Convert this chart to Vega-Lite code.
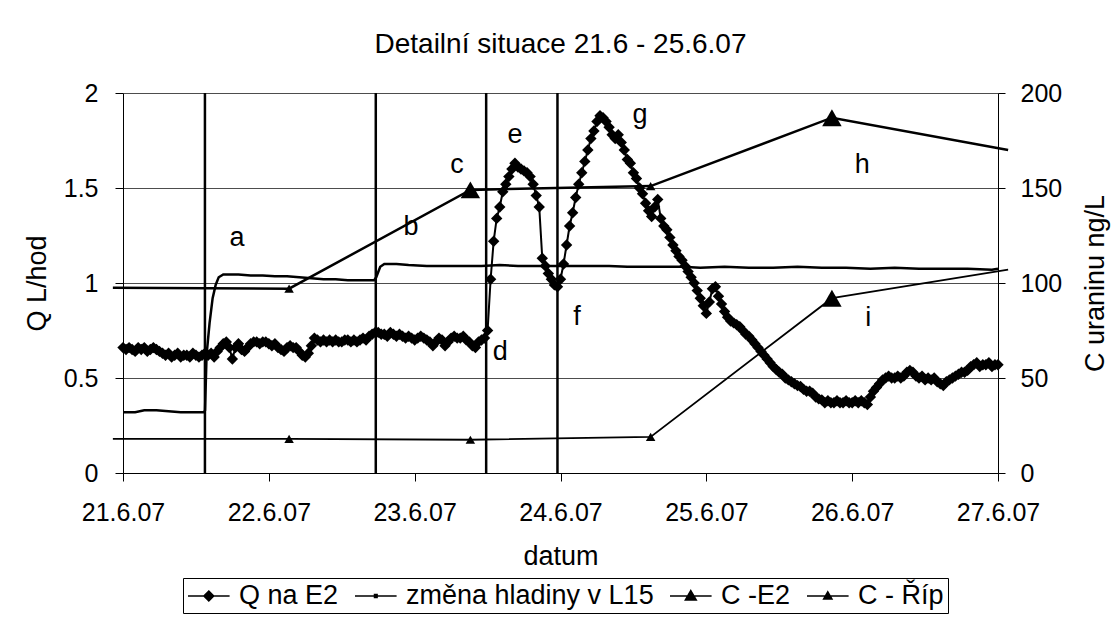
{
  "$schema": "https://vega.github.io/schema/vega-lite/v6.json",
  "width": 875,
  "height": 380,
  "autosize": {"type": "none"},
  "padding": {"left": 123, "top": 93, "right": 122, "bottom": 144},
  "background": "white",
  "title": {"text": "Detailní situace 21.6 - 25.6.07", "anchor": "middle", "frame": "group", "baseline": "alphabetic", "offset": 0, "fontSize": 28, "fontWeight": "normal", "font": "Liberation Sans", "color": "black"},
  "config": {
    "font": "Liberation Sans",
    "view": {"stroke": null},
    "axis": {
      "labelFont": "Liberation Sans", "labelFontSize": 25, "labelColor": "black",
      "titleFont": "Liberation Sans", "titleFontSize": 27, "titleFontWeight": "normal", "titleColor": "black",
      "domainColor": "black", "domainWidth": 1, "tickColor": "black", "tickWidth": 1, "tickSize": 8,
      "gridColor": "#4d4d4d", "gridWidth": 1
    }
  },
  "datasets": {
    "prutok": [
      {"datum":"2007-06-21T00:00","q":0.66},{"datum":"2007-06-21T00:30","q":0.65},{"datum":"2007-06-21T01:00","q":0.66},{"datum":"2007-06-21T01:30","q":0.65},
      {"datum":"2007-06-21T02:00","q":0.64},{"datum":"2007-06-21T02:30","q":0.66},{"datum":"2007-06-21T03:00","q":0.65},{"datum":"2007-06-21T03:30","q":0.66},
      {"datum":"2007-06-21T04:00","q":0.64},{"datum":"2007-06-21T04:30","q":0.65},{"datum":"2007-06-21T05:00","q":0.66},{"datum":"2007-06-21T05:30","q":0.65},
      {"datum":"2007-06-21T06:00","q":0.64},{"datum":"2007-06-21T06:30","q":0.63},{"datum":"2007-06-21T07:00","q":0.62},{"datum":"2007-06-21T07:30","q":0.63},
      {"datum":"2007-06-21T08:00","q":0.61},{"datum":"2007-06-21T08:30","q":0.62},{"datum":"2007-06-21T09:00","q":0.63},{"datum":"2007-06-21T09:30","q":0.61},
      {"datum":"2007-06-21T10:00","q":0.62},{"datum":"2007-06-21T10:30","q":0.62},{"datum":"2007-06-21T11:00","q":0.61},{"datum":"2007-06-21T11:30","q":0.63},
      {"datum":"2007-06-21T12:00","q":0.62},{"datum":"2007-06-21T12:30","q":0.61},{"datum":"2007-06-21T13:00","q":0.62},{"datum":"2007-06-21T13:30","q":0.63},
      {"datum":"2007-06-21T14:00","q":0.62},{"datum":"2007-06-21T14:30","q":0.63},{"datum":"2007-06-21T15:00","q":0.61},{"datum":"2007-06-21T15:30","q":0.64},
      {"datum":"2007-06-21T16:00","q":0.66},{"datum":"2007-06-21T16:30","q":0.68},{"datum":"2007-06-21T17:00","q":0.69},{"datum":"2007-06-21T17:30","q":0.66},
      {"datum":"2007-06-21T18:00","q":0.60},{"datum":"2007-06-21T18:30","q":0.66},{"datum":"2007-06-21T19:00","q":0.68},{"datum":"2007-06-21T19:30","q":0.65},
      {"datum":"2007-06-21T20:00","q":0.64},{"datum":"2007-06-21T20:30","q":0.66},{"datum":"2007-06-21T21:00","q":0.68},{"datum":"2007-06-21T21:30","q":0.69},
      {"datum":"2007-06-21T22:00","q":0.69},{"datum":"2007-06-21T22:30","q":0.68},{"datum":"2007-06-21T23:00","q":0.69},{"datum":"2007-06-21T23:30","q":0.69},
      {"datum":"2007-06-22T00:00","q":0.68},{"datum":"2007-06-22T00:30","q":0.67},{"datum":"2007-06-22T01:00","q":0.68},{"datum":"2007-06-22T01:30","q":0.66},
      {"datum":"2007-06-22T02:00","q":0.65},{"datum":"2007-06-22T02:30","q":0.64},{"datum":"2007-06-22T03:00","q":0.66},{"datum":"2007-06-22T03:30","q":0.67},
      {"datum":"2007-06-22T04:00","q":0.66},{"datum":"2007-06-22T04:30","q":0.66},{"datum":"2007-06-22T05:00","q":0.64},{"datum":"2007-06-22T05:30","q":0.62},
      {"datum":"2007-06-22T06:00","q":0.61},{"datum":"2007-06-22T06:30","q":0.63},{"datum":"2007-06-22T07:00","q":0.67},{"datum":"2007-06-22T07:30","q":0.71},
      {"datum":"2007-06-22T08:00","q":0.70},{"datum":"2007-06-22T08:30","q":0.69},{"datum":"2007-06-22T09:00","q":0.70},{"datum":"2007-06-22T09:30","q":0.69},
      {"datum":"2007-06-22T10:00","q":0.70},{"datum":"2007-06-22T10:30","q":0.69},{"datum":"2007-06-22T11:00","q":0.70},{"datum":"2007-06-22T11:30","q":0.69},
      {"datum":"2007-06-22T12:00","q":0.69},{"datum":"2007-06-22T12:30","q":0.70},{"datum":"2007-06-22T13:00","q":0.70},{"datum":"2007-06-22T13:30","q":0.69},
      {"datum":"2007-06-22T14:00","q":0.70},{"datum":"2007-06-22T14:30","q":0.69},{"datum":"2007-06-22T15:00","q":0.70},{"datum":"2007-06-22T15:30","q":0.71},
      {"datum":"2007-06-22T16:00","q":0.70},{"datum":"2007-06-22T16:30","q":0.72},{"datum":"2007-06-22T17:00","q":0.73},{"datum":"2007-06-22T17:30","q":0.74},
      {"datum":"2007-06-22T18:00","q":0.74},{"datum":"2007-06-22T18:30","q":0.73},{"datum":"2007-06-22T19:00","q":0.73},{"datum":"2007-06-22T19:30","q":0.72},
      {"datum":"2007-06-22T20:00","q":0.74},{"datum":"2007-06-22T20:30","q":0.73},{"datum":"2007-06-22T21:00","q":0.72},{"datum":"2007-06-22T21:30","q":0.73},
      {"datum":"2007-06-22T22:00","q":0.72},{"datum":"2007-06-22T22:30","q":0.71},{"datum":"2007-06-22T23:00","q":0.72},{"datum":"2007-06-22T23:30","q":0.71},
      {"datum":"2007-06-23T00:00","q":0.70},{"datum":"2007-06-23T00:30","q":0.71},{"datum":"2007-06-23T01:00","q":0.72},{"datum":"2007-06-23T01:30","q":0.71},
      {"datum":"2007-06-23T02:00","q":0.70},{"datum":"2007-06-23T02:30","q":0.69},{"datum":"2007-06-23T03:00","q":0.67},{"datum":"2007-06-23T03:30","q":0.69},
      {"datum":"2007-06-23T04:00","q":0.71},{"datum":"2007-06-23T04:30","q":0.70},{"datum":"2007-06-23T05:00","q":0.67},{"datum":"2007-06-23T05:30","q":0.69},
      {"datum":"2007-06-23T06:00","q":0.71},{"datum":"2007-06-23T06:30","q":0.72},{"datum":"2007-06-23T07:00","q":0.71},{"datum":"2007-06-23T07:30","q":0.71},
      {"datum":"2007-06-23T08:00","q":0.72},{"datum":"2007-06-23T08:30","q":0.70},{"datum":"2007-06-23T09:00","q":0.69},{"datum":"2007-06-23T09:30","q":0.67},
      {"datum":"2007-06-23T10:00","q":0.66},{"datum":"2007-06-23T10:30","q":0.69},{"datum":"2007-06-23T11:00","q":0.70},{"datum":"2007-06-23T11:30","q":0.71},
      {"datum":"2007-06-23T12:00","q":0.75},{"datum":"2007-06-23T12:30","q":1.02},{"datum":"2007-06-23T13:00","q":1.22},{"datum":"2007-06-23T13:30","q":1.34},
      {"datum":"2007-06-23T14:00","q":1.40},{"datum":"2007-06-23T14:30","q":1.48},{"datum":"2007-06-23T15:00","q":1.52},{"datum":"2007-06-23T15:30","q":1.56},
      {"datum":"2007-06-23T16:00","q":1.60},{"datum":"2007-06-23T16:30","q":1.63},{"datum":"2007-06-23T17:00","q":1.61},{"datum":"2007-06-23T17:30","q":1.60},
      {"datum":"2007-06-23T18:00","q":1.59},{"datum":"2007-06-23T18:30","q":1.58},{"datum":"2007-06-23T19:00","q":1.56},{"datum":"2007-06-23T19:30","q":1.52},
      {"datum":"2007-06-23T20:00","q":1.46},{"datum":"2007-06-23T20:30","q":1.40},{"datum":"2007-06-23T21:00","q":1.13},{"datum":"2007-06-23T21:30","q":1.09},
      {"datum":"2007-06-23T22:00","q":1.05},{"datum":"2007-06-23T22:30","q":1.02},{"datum":"2007-06-23T23:00","q":0.99},{"datum":"2007-06-23T23:30","q":0.98},
      {"datum":"2007-06-24T00:00","q":1.02},{"datum":"2007-06-24T00:30","q":1.10},{"datum":"2007-06-24T01:00","q":1.20},{"datum":"2007-06-24T01:30","q":1.30},
      {"datum":"2007-06-24T02:00","q":1.37},{"datum":"2007-06-24T02:30","q":1.45},{"datum":"2007-06-24T03:00","q":1.52},{"datum":"2007-06-24T03:30","q":1.58},
      {"datum":"2007-06-24T04:00","q":1.64},{"datum":"2007-06-24T04:30","q":1.70},{"datum":"2007-06-24T05:00","q":1.76},{"datum":"2007-06-24T05:30","q":1.80},
      {"datum":"2007-06-24T06:00","q":1.85},{"datum":"2007-06-24T06:30","q":1.88},{"datum":"2007-06-24T07:00","q":1.87},{"datum":"2007-06-24T07:30","q":1.85},
      {"datum":"2007-06-24T08:00","q":1.82},{"datum":"2007-06-24T08:30","q":1.78},{"datum":"2007-06-24T09:00","q":1.76},{"datum":"2007-06-24T09:30","q":1.78},
      {"datum":"2007-06-24T10:00","q":1.74},{"datum":"2007-06-24T10:30","q":1.70},{"datum":"2007-06-24T11:00","q":1.65},{"datum":"2007-06-24T11:30","q":1.63},
      {"datum":"2007-06-24T12:00","q":1.58},{"datum":"2007-06-24T12:30","q":1.55},{"datum":"2007-06-24T13:00","q":1.50},{"datum":"2007-06-24T13:30","q":1.47},
      {"datum":"2007-06-24T14:00","q":1.42},{"datum":"2007-06-24T14:30","q":1.38},{"datum":"2007-06-24T15:00","q":1.35},{"datum":"2007-06-24T15:30","q":1.40},
      {"datum":"2007-06-24T16:00","q":1.44},{"datum":"2007-06-24T16:30","q":1.34},{"datum":"2007-06-24T17:00","q":1.30},{"datum":"2007-06-24T17:30","q":1.28},
      {"datum":"2007-06-24T18:00","q":1.24},{"datum":"2007-06-24T18:30","q":1.20},{"datum":"2007-06-24T19:00","q":1.17},{"datum":"2007-06-24T19:30","q":1.14},
      {"datum":"2007-06-24T20:00","q":1.12},{"datum":"2007-06-24T20:30","q":1.09},{"datum":"2007-06-24T21:00","q":1.06},{"datum":"2007-06-24T21:30","q":1.03},
      {"datum":"2007-06-24T22:00","q":1.00},{"datum":"2007-06-24T22:30","q":0.96},{"datum":"2007-06-24T23:00","q":0.92},{"datum":"2007-06-24T23:30","q":0.88},
      {"datum":"2007-06-25T00:00","q":0.84},{"datum":"2007-06-25T00:30","q":0.90},{"datum":"2007-06-25T01:00","q":0.97},{"datum":"2007-06-25T01:30","q":0.98},
      {"datum":"2007-06-25T02:00","q":0.93},{"datum":"2007-06-25T02:30","q":0.89},{"datum":"2007-06-25T03:00","q":0.85},{"datum":"2007-06-25T03:30","q":0.82},
      {"datum":"2007-06-25T04:00","q":0.80},{"datum":"2007-06-25T04:30","q":0.79},{"datum":"2007-06-25T05:00","q":0.78},{"datum":"2007-06-25T05:30","q":0.77},
      {"datum":"2007-06-25T06:00","q":0.75},{"datum":"2007-06-25T06:30","q":0.73},{"datum":"2007-06-25T07:00","q":0.72},{"datum":"2007-06-25T07:30","q":0.70},
      {"datum":"2007-06-25T08:00","q":0.68},{"datum":"2007-06-25T08:30","q":0.66},{"datum":"2007-06-25T09:00","q":0.64},{"datum":"2007-06-25T09:30","q":0.62},
      {"datum":"2007-06-25T10:00","q":0.60},{"datum":"2007-06-25T10:30","q":0.58},{"datum":"2007-06-25T11:00","q":0.56},{"datum":"2007-06-25T11:30","q":0.545},
      {"datum":"2007-06-25T12:00","q":0.53},{"datum":"2007-06-25T12:30","q":0.52},{"datum":"2007-06-25T13:00","q":0.50},{"datum":"2007-06-25T13:30","q":0.49},
      {"datum":"2007-06-25T14:00","q":0.48},{"datum":"2007-06-25T14:30","q":0.47},{"datum":"2007-06-25T15:00","q":0.46},{"datum":"2007-06-25T15:30","q":0.455},
      {"datum":"2007-06-25T16:00","q":0.44},{"datum":"2007-06-25T16:30","q":0.43},{"datum":"2007-06-25T17:00","q":0.43},{"datum":"2007-06-25T17:30","q":0.42},
      {"datum":"2007-06-25T18:00","q":0.40},{"datum":"2007-06-25T18:30","q":0.39},{"datum":"2007-06-25T19:00","q":0.385},{"datum":"2007-06-25T19:30","q":0.37},
      {"datum":"2007-06-25T20:00","q":0.38},{"datum":"2007-06-25T20:30","q":0.37},{"datum":"2007-06-25T21:00","q":0.37},{"datum":"2007-06-25T21:30","q":0.38},
      {"datum":"2007-06-25T22:00","q":0.37},{"datum":"2007-06-25T22:30","q":0.37},{"datum":"2007-06-25T23:00","q":0.38},{"datum":"2007-06-25T23:30","q":0.37},
      {"datum":"2007-06-26T00:00","q":0.37},{"datum":"2007-06-26T00:30","q":0.38},{"datum":"2007-06-26T01:00","q":0.37},{"datum":"2007-06-26T01:30","q":0.38},
      {"datum":"2007-06-26T02:00","q":0.37},{"datum":"2007-06-26T02:30","q":0.36},{"datum":"2007-06-26T03:00","q":0.40},{"datum":"2007-06-26T03:30","q":0.43},
      {"datum":"2007-06-26T04:00","q":0.45},{"datum":"2007-06-26T04:30","q":0.47},{"datum":"2007-06-26T05:00","q":0.49},{"datum":"2007-06-26T05:30","q":0.50},
      {"datum":"2007-06-26T06:00","q":0.51},{"datum":"2007-06-26T06:30","q":0.50},{"datum":"2007-06-26T07:00","q":0.50},{"datum":"2007-06-26T07:30","q":0.51},
      {"datum":"2007-06-26T08:00","q":0.50},{"datum":"2007-06-26T08:30","q":0.51},{"datum":"2007-06-26T09:00","q":0.53},{"datum":"2007-06-26T09:30","q":0.54},
      {"datum":"2007-06-26T10:00","q":0.53},{"datum":"2007-06-26T10:30","q":0.51},{"datum":"2007-06-26T11:00","q":0.50},{"datum":"2007-06-26T11:30","q":0.51},
      {"datum":"2007-06-26T12:00","q":0.49},{"datum":"2007-06-26T12:30","q":0.50},{"datum":"2007-06-26T13:00","q":0.49},{"datum":"2007-06-26T13:30","q":0.50},
      {"datum":"2007-06-26T14:00","q":0.48},{"datum":"2007-06-26T14:30","q":0.47},{"datum":"2007-06-26T15:00","q":0.46},{"datum":"2007-06-26T15:30","q":0.48},
      {"datum":"2007-06-26T16:00","q":0.49},{"datum":"2007-06-26T16:30","q":0.50},{"datum":"2007-06-26T17:00","q":0.51},{"datum":"2007-06-26T17:30","q":0.52},
      {"datum":"2007-06-26T18:00","q":0.53},{"datum":"2007-06-26T18:30","q":0.53},{"datum":"2007-06-26T19:00","q":0.54},{"datum":"2007-06-26T19:30","q":0.56},
      {"datum":"2007-06-26T20:00","q":0.57},{"datum":"2007-06-26T20:30","q":0.58},{"datum":"2007-06-26T21:00","q":0.56},{"datum":"2007-06-26T21:30","q":0.57},
      {"datum":"2007-06-26T22:00","q":0.57},{"datum":"2007-06-26T22:30","q":0.58},{"datum":"2007-06-26T23:00","q":0.56},{"datum":"2007-06-26T23:30","q":0.57},
      {"datum":"2007-06-27T00:00","q":0.57}
    ],
    "hladina": [
      {"datum":"2007-06-21T00:00","h":0.32},{"datum":"2007-06-21T02:00","h":0.32},{"datum":"2007-06-21T03:30","h":0.33},{"datum":"2007-06-21T05:30","h":0.33},
      {"datum":"2007-06-21T07:30","h":0.325},{"datum":"2007-06-21T09:30","h":0.32},{"datum":"2007-06-21T11:30","h":0.32},{"datum":"2007-06-21T13:20","h":0.32},
      {"datum":"2007-06-21T13:30","h":0.33},{"datum":"2007-06-21T13:45","h":0.62},{"datum":"2007-06-21T14:15","h":0.79},{"datum":"2007-06-21T14:45","h":0.92},
      {"datum":"2007-06-21T15:15","h":0.99},{"datum":"2007-06-21T15:45","h":1.03},{"datum":"2007-06-21T16:30","h":1.045},{"datum":"2007-06-21T19:00","h":1.045},
      {"datum":"2007-06-21T21:00","h":1.04},{"datum":"2007-06-21T23:00","h":1.04},{"datum":"2007-06-22T01:00","h":1.035},{"datum":"2007-06-22T03:00","h":1.035},
      {"datum":"2007-06-22T05:00","h":1.03},{"datum":"2007-06-22T07:00","h":1.025},{"datum":"2007-06-22T09:00","h":1.02},{"datum":"2007-06-22T11:00","h":1.02},
      {"datum":"2007-06-22T13:00","h":1.015},{"datum":"2007-06-22T15:00","h":1.015},{"datum":"2007-06-22T17:20","h":1.015},{"datum":"2007-06-22T17:40","h":1.03},
      {"datum":"2007-06-22T18:20","h":1.085},{"datum":"2007-06-22T19:00","h":1.10},{"datum":"2007-06-22T21:00","h":1.10},{"datum":"2007-06-22T23:00","h":1.095},
      {"datum":"2007-06-23T02:00","h":1.09},{"datum":"2007-06-23T05:00","h":1.09},{"datum":"2007-06-23T08:00","h":1.09},{"datum":"2007-06-23T11:00","h":1.09},
      {"datum":"2007-06-23T14:00","h":1.095},{"datum":"2007-06-23T17:00","h":1.09},{"datum":"2007-06-23T20:00","h":1.09},{"datum":"2007-06-23T23:00","h":1.09},
      {"datum":"2007-06-24T02:00","h":1.09},{"datum":"2007-06-24T05:00","h":1.09},{"datum":"2007-06-24T08:00","h":1.09},{"datum":"2007-06-24T11:00","h":1.085},
      {"datum":"2007-06-24T14:00","h":1.085},{"datum":"2007-06-24T17:00","h":1.085},{"datum":"2007-06-24T20:00","h":1.085},{"datum":"2007-06-24T23:00","h":1.08},
      {"datum":"2007-06-25T03:00","h":1.085},{"datum":"2007-06-25T07:00","h":1.08},{"datum":"2007-06-25T11:00","h":1.08},{"datum":"2007-06-25T15:00","h":1.085},
      {"datum":"2007-06-25T19:00","h":1.08},{"datum":"2007-06-25T23:00","h":1.08},{"datum":"2007-06-26T03:00","h":1.075},{"datum":"2007-06-26T07:00","h":1.08},
      {"datum":"2007-06-26T11:00","h":1.075},{"datum":"2007-06-26T15:00","h":1.075},{"datum":"2007-06-26T19:00","h":1.075},{"datum":"2007-06-26T23:00","h":1.07},
      {"datum":"2007-06-27T00:00","h":1.075}
    ],
    "koncentrace": [
      {"rada":"C -E2","datum":"2007-06-20T22:20","c":97.5},
      {"rada":"C -E2","datum":"2007-06-22T03:20","c":97},
      {"rada":"C -E2","datum":"2007-06-23T09:10","c":149,"bod":"c"},
      {"rada":"C -E2","datum":"2007-06-24T14:50","c":151},
      {"rada":"C -E2","datum":"2007-06-25T20:40","c":187,"bod":"h"},
      {"rada":"C -E2","datum":"2007-06-27T01:40","c":170},
      {"rada":"C - Říp","datum":"2007-06-20T22:20","c":18},
      {"rada":"C - Říp","datum":"2007-06-22T03:20","c":18},
      {"rada":"C - Říp","datum":"2007-06-23T09:10","c":17.5},
      {"rada":"C - Říp","datum":"2007-06-24T14:50","c":19},
      {"rada":"C - Říp","datum":"2007-06-25T20:40","c":92,"bod":"i"},
      {"rada":"C - Říp","datum":"2007-06-27T01:40","c":107}
    ],
    "udalosti": [
      {"datum":"2007-06-21T13:29"},
      {"datum":"2007-06-22T17:36"},
      {"datum":"2007-06-23T11:46"},
      {"datum":"2007-06-23T23:30"}
    ],
    "popisky": [
      {"pismeno":"a","datum":"2007-06-21T18:45","y":1.237},
      {"pismeno":"b","datum":"2007-06-22T23:24","y":1.295},
      {"pismeno":"c","datum":"2007-06-23T06:59","y":1.621},
      {"pismeno":"d","datum":"2007-06-23T14:04","y":0.637},
      {"pismeno":"e","datum":"2007-06-23T16:32","y":1.779},
      {"pismeno":"f","datum":"2007-06-24T02:44","y":0.821},
      {"pismeno":"g","datum":"2007-06-24T13:06","y":1.884},
      {"pismeno":"h","datum":"2007-06-26T01:39","y":1.621},
      {"pismeno":"i","datum":"2007-06-26T02:38","y":0.816}
    ]
  },
  "layer": [
    {
      "layer": [
        {
          "data": {"name": "udalosti"},
          "mark": {"type": "rule", "strokeWidth": 2.5, "color": "black"},
          "encoding": {
            "x": {"field": "datum", "type": "temporal", "scale": {"domain": [{"year": 2007, "month": 6, "date": 21}, {"year": 2007, "month": 6, "date": 27}], "nice": false}},
            "y": {"datum": 0, "type": "quantitative", "scale": {"domain": [0, 2], "nice": false}},
            "y2": {"datum": 2}
          }
        },
        {
          "data": {"name": "hladina"},
          "mark": {"type": "line", "strokeWidth": 2.5},
          "encoding": {
            "x": {"field": "datum", "type": "temporal", "scale": {"domain": [{"year": 2007, "month": 6, "date": 21}, {"year": 2007, "month": 6, "date": 27}], "nice": false}},
            "y": {"field": "h", "type": "quantitative", "scale": {"domain": [0, 2], "nice": false}},
            "color": {"datum": "změna hladiny v L15", "title": null, "scale": {"domain": ["Q na E2", "změna hladiny v L15", "C -E2", "C - Říp"], "range": ["black", "black", "black", "black"]}}
          }
        },
        {
          "data": {"name": "prutok"},
          "mark": {"type": "line", "strokeWidth": 2, "point": {"shape": "diamond", "size": 130, "filled": true, "opacity": 1}},
          "encoding": {
            "x": {
              "field": "datum", "type": "temporal",
              "scale": {"domain": [{"year": 2007, "month": 6, "date": 21}, {"year": 2007, "month": 6, "date": 27}], "nice": false},
              "axis": {"title": "datum", "tickCount": {"interval": "day", "step": 1}, "format": "%-d.%-m.%y", "labelPadding": 19, "labelFlush": false, "labelOverlap": false, "grid": false, "titleY": 83, "titleBaseline": "middle"}
            },
            "y": {
              "field": "q", "type": "quantitative",
              "scale": {"domain": [0, 2], "nice": false},
              "axis": {"title": "Q L/hod", "values": [0, 0.5, 1, 1.5, 2], "format": "~g", "grid": true, "labelPadding": 17, "titleX": -86, "titleY": 190, "titleAngle": 270, "titleBaseline": "middle", "titleAlign": "center"}
            },
            "color": {
              "datum": "Q na E2",
              "title": null,
              "scale": {"domain": ["Q na E2", "změna hladiny v L15", "C -E2", "C - Říp"], "range": ["black", "black", "black", "black"]},
              "legend": {
                "orient": "none", "legendX": 60, "legendY": 485,
                "direction": "horizontal", "columns": 4, "title": null,
                "labelFont": "Liberation Sans", "labelFontSize": 27, "labelColor": "black", "labelLimit": 0,
                "labelOffset": 24, "columnPadding": 13, "symbolSize": 676, "symbolStrokeWidth": 1.5,
                "padding": 4, "strokeColor": "black", "fillColor": "white",
                "encode": {
                  "symbols": {
                    "update": {
                      "shape": {"signal": "datum.value == 'Q na E2' ? 'M-1,0H2.2M0.6,-0.38L0.98,0L0.6,0.38L0.22,0Z' : datum.value == 'C -E2' ? 'M-1,0H2.2M0.6,-0.42L1.02,0.3L0.18,0.3Z' : datum.value == 'C - Říp' ? 'M-1,0H2.2M0.6,-0.32L0.92,0.24L0.28,0.24Z' : 'M-1,0H2.2M0.5,-0.12H0.7V0.12H0.5Z'"},
                      "fill": {"value": "black"},
                      "stroke": {"value": "black"},
                      "strokeWidth": {"value": 1.5},
                      "opacity": {"value": 1}
                    }
                  }
                }
              }
            }
          }
        },
        {
          "data": {"name": "popisky"},
          "mark": {"type": "text", "font": "Liberation Sans", "fontSize": 27, "align": "center", "baseline": "middle", "color": "black"},
          "encoding": {
            "x": {"field": "datum", "type": "temporal", "scale": {"domain": [{"year": 2007, "month": 6, "date": 21}, {"year": 2007, "month": 6, "date": 27}], "nice": false}},
            "y": {"field": "y", "type": "quantitative", "scale": {"domain": [0, 2], "nice": false}},
            "text": {"field": "pismeno"}
          }
        }
      ]
    },
    {
      "layer": [
        {
          "data": {"name": "koncentrace"},
          "transform": [{"filter": "datum.rada == 'C -E2'"}],
          "mark": {"type": "line", "strokeWidth": 2.5, "clip": false},
          "encoding": {
            "x": {"field": "datum", "type": "temporal", "scale": {"domain": [{"year": 2007, "month": 6, "date": 21}, {"year": 2007, "month": 6, "date": 27}], "nice": false}},
            "y": {
              "field": "c", "type": "quantitative",
              "scale": {"domain": [0, 200], "nice": false},
              "axis": {"orient": "right", "title": "C uraninu ng/L", "values": [0, 50, 100, 150, 200], "grid": false, "tickSize": 7, "labelPadding": 15, "titleX": 97, "titleY": 190, "titleAngle": 270, "titleBaseline": "middle", "titleAlign": "center"}
            },
            "color": {"field": "rada", "type": "nominal", "title": null, "scale": {"domain": ["Q na E2", "změna hladiny v L15", "C -E2", "C - Říp"], "range": ["black", "black", "black", "black"]}}
          }
        },
        {
          "data": {"name": "koncentrace"},
          "transform": [{"filter": "datum.rada == 'C - Říp'"}],
          "mark": {"type": "line", "strokeWidth": 1.8, "clip": false},
          "encoding": {
            "x": {"field": "datum", "type": "temporal", "scale": {"domain": [{"year": 2007, "month": 6, "date": 21}, {"year": 2007, "month": 6, "date": 27}], "nice": false}},
            "y": {"field": "c", "type": "quantitative", "scale": {"domain": [0, 200], "nice": false}},
            "color": {"field": "rada", "type": "nominal", "title": null, "scale": {"domain": ["Q na E2", "změna hladiny v L15", "C -E2", "C - Říp"], "range": ["black", "black", "black", "black"]}}
          }
        },
        {
          "data": {"name": "koncentrace"},
          "transform": [{"filter": "!isValid(datum.bod)"}],
          "mark": {"type": "point", "shape": "triangle-up", "size": 90, "filled": true, "opacity": 1, "clip": true},
          "encoding": {
            "x": {"field": "datum", "type": "temporal", "scale": {"domain": [{"year": 2007, "month": 6, "date": 21}, {"year": 2007, "month": 6, "date": 27}], "nice": false}},
            "y": {"field": "c", "type": "quantitative", "scale": {"domain": [0, 200], "nice": false}},
            "color": {"field": "rada", "type": "nominal", "title": null, "scale": {"domain": ["Q na E2", "změna hladiny v L15", "C -E2", "C - Říp"], "range": ["black", "black", "black", "black"]}}
          }
        },
        {
          "data": {"name": "koncentrace"},
          "transform": [{"filter": "isValid(datum.bod)"}],
          "mark": {"type": "point", "shape": "triangle-up", "size": 380, "filled": true, "opacity": 1},
          "encoding": {
            "x": {"field": "datum", "type": "temporal", "scale": {"domain": [{"year": 2007, "month": 6, "date": 21}, {"year": 2007, "month": 6, "date": 27}], "nice": false}},
            "y": {"field": "c", "type": "quantitative", "scale": {"domain": [0, 200], "nice": false}},
            "color": {"field": "rada", "type": "nominal", "title": null, "scale": {"domain": ["Q na E2", "změna hladiny v L15", "C -E2", "C - Říp"], "range": ["black", "black", "black", "black"]}}
          }
        }
      ]
    }
  ],
  "resolve": {"scale": {"y": "independent"}}
}
